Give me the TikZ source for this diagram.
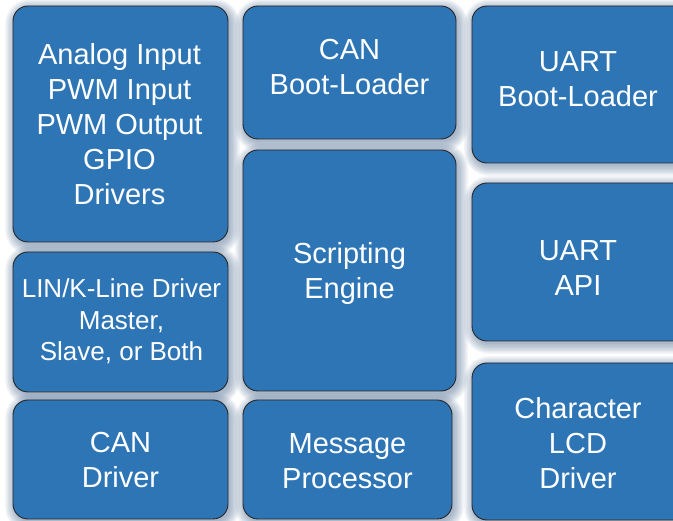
\documentclass[tikz,border=0pt]{standalone}
\usepackage{fontspec}
\setmainfont{Liberation Sans}
\definecolor{boxblue}{HTML}{2E75B6}
\definecolor{boxline}{HTML}{262626}
\definecolor{shadowcol}{HTML}{3E5F88}
\begin{document}
\begin{tikzpicture}[x=1pt,y=1pt,
  box/.style={draw=boxline, line width=0.9pt, fill=boxblue, rounded corners=15pt, inner sep=0pt},
  lbl/.style={text=white, align=center, inner sep=0pt, font=\fontsize{29}{35}\selectfont},
  lblsmall/.style={lbl, font=\fontsize{26}{31.5}\selectfont}]
\useasboundingbox (0,0) rectangle (673,521);
\clip (0,0) rectangle (673,521);
\fill[white] (0,0) rectangle (673,521);
% soft shadows
\foreach \a/\b/\c/\d in {13/279/228/515, 13/129/228/269, 13/2/228/121,
  243/382/456/515, 243/130/456/371, 243/2/452/121,
  472/358/690/515, 472/180/690/338, 472/1/690/158}{
  \foreach \k in {0,...,7}{
    \pgfmathsetmacro\e{\k*1.4}
    \pgfmathsetmacro\r{15+\e}
    \fill[shadowcol, opacity=0.065, rounded corners=\r pt]
      (\a-\e+2,\b-\e-3) rectangle (\c+\e+2,\d+\e-3);
  }
}
% boxes
\node[box, minimum width=215, minimum height=236] (analog) at (120.5,397) {};
\node[box, minimum width=215, minimum height=140] (lin) at (120.5,199) {};
\node[box, minimum width=215, minimum height=119] (candrv) at (120.5,61.5) {};
\node[box, minimum width=213, minimum height=133] (canboot) at (349.5,448.5) {};
\node[box, minimum width=213, minimum height=241] (script) at (349.5,250.5) {};
\node[box, minimum width=209, minimum height=119] (msg) at (347.5,61.5) {};
\node[box, minimum width=218, minimum height=157] (uartboot) at (581,436.5) {};
\node[box, minimum width=218, minimum height=158] (uartapi) at (581,259) {};
\node[box, minimum width=218, minimum height=157] (lcd) at (581,79.5) {};
% labels
\node[lbl] (analog-t) at (119.5,396.5) {Analog Input\\PWM Input\\PWM Output\\GPIO\\Drivers};
\node[lblsmall] (lin-t) at (121.5,199.5) {LIN/K-Line Driver\\Master,\\Slave, or Both};
\node[lbl] (candrv-t) at (120.5,60.5) {CAN\\Driver};
\node[lbl] (canboot-t) at (349.5,453.5) {CAN\\Boot-Loader};
\node[lbl] (script-t) at (349.5,247) {Scripting\\Engine};
\node[lbl] (msg-t) at (347.5,60) {Message\\Processor};
\node[lbl] (uartboot-t) at (578,441.5) {UART\\Boot-Loader};
\node[lbl] (uartapi-t) at (578,252.5) {UART\\API};
\node[lbl] (lcd-t) at (578,78) {Character\\LCD\\Driver};
\end{tikzpicture}
\end{document}
